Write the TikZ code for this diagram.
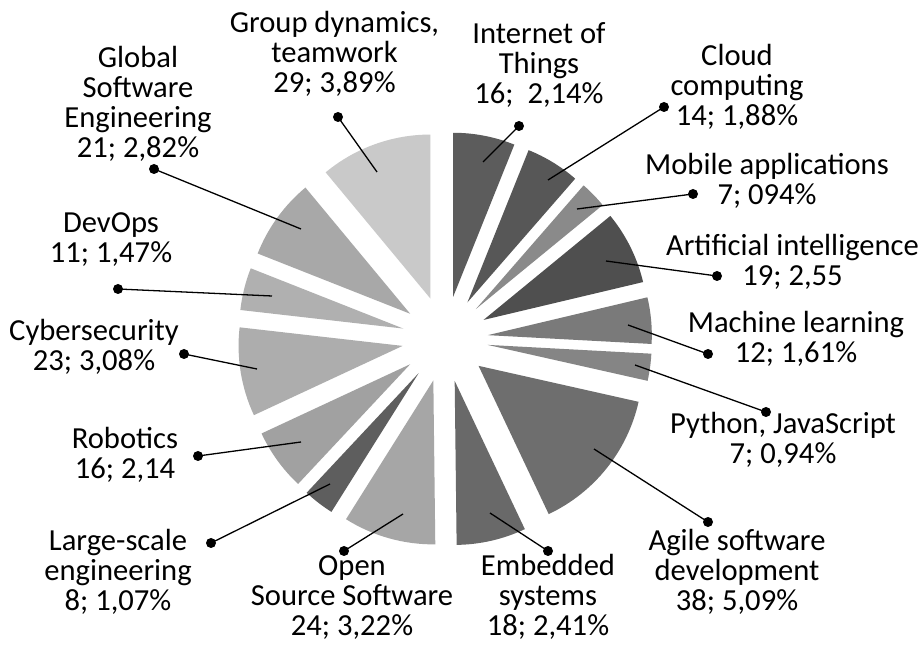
\documentclass[tikz,border=0pt]{standalone}
\usepackage{fontspec}
\setmainfont{Carlito}
\usetikzlibrary{calc}
\setlength{\lineskiplimit}{-100pt}
\newcommand\mystrut{\rule{0pt}{24pt}}
\begin{document}
\begin{tikzpicture}[x=1pt,y=1pt,
  lbl/.style={font=\fontsize{30.6}{30}\selectfont, align=center, anchor=north, inner sep=0pt, text=black},
  lead/.style={line width=1.3pt, black},
  dotc/.style={fill=black}]
\useasboundingbox[fill=white] (0,0) rectangle (923,645);
\coordinate (C) at (445,306);
% slices: start angle / end angle / darkness
\foreach \a/\b/\g in {90/68.099/64, 68.099/48.935/66, 48.935/39.354/46, 39.354/13.346/69,
  13.346/-3.080/52, -3.080/-12.662/48, -12.662/-64.677/57, -64.677/-89.316/59,
  -89.316/-122.167/35, -122.167/-133.118/63, -133.118/-155.019/37, -155.019/-186.502/32,
  -186.502/-201.559/31, -201.559/-230.304/34, -230.304/-270/21}{
  \pgfmathsetmacro\m{(\a+\b)/2}
  \fill[black!\g] ($(C)+(\m:43pt)$) -- ++(\a:164pt) arc[start angle=\a, end angle=\b, radius=164pt] -- cycle;
}
% leader coordinates
\coordinate (grA) at (377,473); \coordinate (grB) at (338,528);
\coordinate (gsA) at (301,416); \coordinate (gsB) at (154,476);
\coordinate (dvA) at (272,349); \coordinate (dvB) at (118,356);
\coordinate (cyA) at (257,276); \coordinate (cyB) at (184,291);
\coordinate (roA) at (301,203); \coordinate (roB) at (198,189);
\coordinate (lsA) at (330,161); \coordinate (lsB) at (211,102);
\coordinate (osA) at (403,131); \coordinate (osB) at (344,94);
\coordinate (emA) at (490,132); \coordinate (emB) at (548,94);
\coordinate (agA) at (594,196); \coordinate (agB) at (708,123);
\coordinate (pyA) at (635,280); \coordinate (pyB) at (766,233);
\coordinate (mlA) at (628,320); \coordinate (mlB) at (708,291);
\coordinate (aiA) at (606,384); \coordinate (aiB) at (717,369);
\coordinate (moA) at (577,436); \coordinate (moB) at (693,451);
\coordinate (clA) at (548,465); \coordinate (clB) at (664,538);
\coordinate (ioA) at (483,483); \coordinate (ioB) at (519,519);
\foreach \p in {gr,gs,dv,cy,ro,ls,os,em,ag,py,ml,ai,mo,cl,io}{
  \draw[lead] (\p A) -- (\p B);
  \fill[dotc] (\p B) circle[radius=5pt];
}
% labels
\node[lbl] (grL) at (334.5,637) {\mystrut Group dynamics,\\teamwork\\29; 3,89\%};
\node[lbl] (gsL) at (138,602) {\mystrut Global\\Software\\Engineering\\21; 2,82\%};
\node[lbl] (dvL) at (111,437) {\mystrut DevOps\\11; 1,47\%};
\node[lbl] (cyL) at (94,329) {\mystrut Cybersecurity\\23; 3,08\%};
\node[lbl] (roL) at (125,221) {\mystrut Robotics\\16; 2,14};
\node[lbl] (lsL) at (118,119) {\mystrut Large-scale\\engineering\\8; 1,07\%};
\node[lbl] (osL) at (352,94) {\mystrut Open\\Source Software\\24; 3,22\%};
\node[lbl] (emL) at (548,94) {\mystrut Embedded\\systems\\18; 2,41\%};
\node[lbl] (agL) at (737,119) {\mystrut Agile software\\development\\38; 5,09\%};
\node[lbl] (pyL) at (783,236) {\mystrut Python, JavaScript\\7; 0,94\%};
\node[lbl] (mlL) at (796,337) {\mystrut Machine learning\\12; 1,61\%};
\node[lbl] (aiL) at (792.5,414) {\mystrut Artificial intelligence\\19; 2,55};
\node[lbl] (moL) at (767,495) {\mystrut Mobile applications\\7; 094\%};
\node[lbl] (clL) at (737,604) {\mystrut Cloud\\computing\\14; 1,88\%};
\node[lbl] (ioL) at (539,626) {\mystrut Internet of\\Things\\16;~ 2,14\%};
\end{tikzpicture}
\end{document}
